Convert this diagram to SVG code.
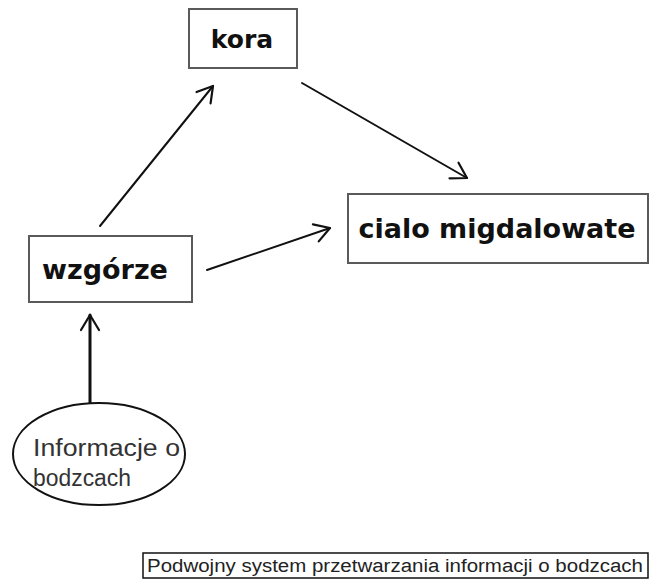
<svg xmlns="http://www.w3.org/2000/svg" width="652" height="587" viewBox="0 0 652 587">
<style>
.box{fill:#fff;stroke:#5a5a5a;stroke-width:2}
.lbl{font-family:"DejaVu Sans",Verdana,sans-serif;font-weight:bold;fill:#111;text-anchor:middle}
.edge{fill:none;stroke:#111;stroke-width:2;stroke-linecap:round}
.thin{font-family:"Liberation Sans",Arial,sans-serif;fill:#333}
</style>
<defs>
<marker id="arr" viewBox="0 0 24 24" refX="20" refY="12" markerWidth="24" markerHeight="24" markerUnits="userSpaceOnUse" orient="auto">
<path d="M5,3 L20,12 L5,21" fill="none" stroke="#111" stroke-width="2.2" stroke-linecap="round" stroke-linejoin="round"/>
</marker>
</defs>
<rect width="652" height="587" fill="#fff"/>
<g id="connectors">
<line class="edge" x1="100" y1="226" x2="213" y2="86" marker-end="url(#arr)"/>
<line class="edge" x1="302" y1="83" x2="467" y2="178" marker-end="url(#arr)"/>
<line class="edge" x1="207" y1="270" x2="330" y2="228" marker-end="url(#arr)"/>
<line class="edge" x1="90" y1="403" x2="90" y2="315" style="stroke-width:3" marker-end="url(#arr)"/>
</g>
<g id="kora">
<rect class="box" x="189" y="9" width="108" height="59"/>
<text class="lbl" x="242" y="48" font-size="25">kora</text>
</g>
<g id="cialo">
<rect class="box" x="348" y="194" width="300" height="69"/>
<text class="lbl" x="497" y="238" font-size="27">cialo migdalowate</text>
</g>
<g id="wzgorze">
<rect class="box" x="29" y="236" width="163" height="66"/>
<text class="lbl" x="105" y="279" font-size="27">wzgórze</text>
</g>
<g id="informacje">
<ellipse cx="99" cy="454" rx="86" ry="51" fill="#fff" stroke="#111" stroke-width="2"/>
<text class="thin" x="33" y="456" font-size="23" textLength="147" lengthAdjust="spacingAndGlyphs">Informacje o</text>
<text class="thin" x="33" y="486" font-size="23" textLength="98" lengthAdjust="spacingAndGlyphs">bodzcach</text>
</g>
<g id="caption">
<rect x="143" y="553" width="505" height="25" fill="#fff" stroke="#111" stroke-width="1.5"/>
<text x="147" y="572" font-family="Liberation Sans, Arial, sans-serif" font-size="18" fill="#222" textLength="496" lengthAdjust="spacingAndGlyphs">Podwojny system przetwarzania informacji o bodzcach</text>
</g>
</svg>
